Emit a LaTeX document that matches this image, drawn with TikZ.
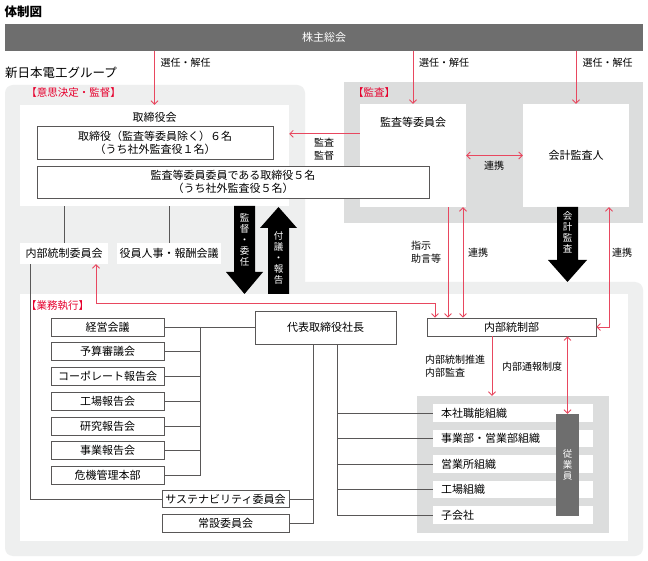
\documentclass[tikz,border=0pt]{standalone}
\usepackage{fontspec}
\setmainfont{Noto Sans CJK JP}
\usetikzlibrary{arrows.meta}
\definecolor{barGray}{HTML}{6E6E6E}
\definecolor{paleGray}{HTML}{EEEFEF}
\definecolor{auditGray}{HTML}{DCDDDD}
\definecolor{lineGray}{HTML}{595757}
\definecolor{linkRed}{HTML}{E8475F}
\definecolor{tagRed}{HTML}{E6002D}

\begin{document}
\begin{tikzpicture}[x=1pt, y=-1pt,
    box/.style={draw=lineGray, line width=0.8pt, fill=white, inner sep=0pt, align=center, font=\fontsize{11}{13}\selectfont},
    whitebox/.style={fill=white, inner sep=0pt, align=center, font=\fontsize{11}{13}\selectfont},
    orgbox/.style={fill=white, inner xsep=8pt, inner ysep=0pt, text width=144pt, minimum height=17.5pt, align=left, font=\fontsize{11}{13}\selectfont},
    tagtext/.style={text=tagRed, inner sep=0pt, font=\fontsize{10.5}{12}\selectfont},
    labeltext/.style={inner sep=0pt, align=left, font=\fontsize{10}{13}\selectfont},
    vtext/.style={text=white, inner sep=0pt, align=center, font=\fontsize{9.5}{11}\selectfont},
    link/.style={draw=lineGray, line width=0.8pt},
    redarrow/.style={draw=linkRed, line width=0.8pt, -{Straight Barb[length=3.5pt,width=7pt]}},
    redboth/.style={draw=linkRed, line width=0.8pt, {Straight Barb[length=3.5pt,width=7pt]}-{Straight Barb[length=3.5pt,width=7pt]}},
  ]
    \useasboundingbox (0,0) rectangle (648,561);
    \fill[white] (0,0) rectangle (648,561);

    % Draw background areas
    \fill[paleGray, rounded corners=8pt] (5,85) rectangle (305,300);
    \fill[paleGray, rounded corners=8pt] (5,282) rectangle (643,556);
    \fill[white] (20,294) rectangle (628,541);
    \fill[auditGray] (344,82) rectangle (643,223);

    % Draw titles
    \node[inner sep=0pt, font=\fontsize{12.5}{14}\selectfont\bfseries] (title) at (23.5,12) {体制図};
    \node[anchor=west, inner sep=0pt, font=\fontsize{12.5}{14}\selectfont] (group) at (5,73) {新日本電工グループ};
    \node[fill=barGray, text=white, minimum width=638pt, minimum height=27pt, inner sep=0pt, font=\fontsize{11}{13}\selectfont] (sh) at (324,37.5) {株主総会};
    \node[tagtext] (tagA) at (73.5,93) {【意思決定・監督】};
    \node[tagtext] (tagB) at (374,93) {【監査】};
    \node[tagtext] (tagC) at (57.5,306) {【業務執行】};

    % Draw board and audit nodes
    \node[fill=white, minimum width=269pt, minimum height=101pt, inner sep=0pt] (board) at (154.5,155.5) {};
    \node[inner sep=0pt, font=\fontsize{11}{13}\selectfont] (boardT) at (154.5,117) {取締役会};
    \node[box, minimum width=236pt, minimum height=33pt] (dir) at (155,142.5) {取締役（監査等委員除く）６名\\（うち社外監査役１名）};
    \node[fill=white, minimum width=106pt, minimum height=103pt, inner sep=0pt] (acm) at (413,155.5) {};
    \node[inner sep=0pt, font=\fontsize{11}{13}\selectfont] (acmT) at (413,122) {監査等委員会};
    \node[box, minimum width=392pt, minimum height=32pt] (acdir) at (233,182) {監査等委員委員である取締役５名\\（うち社外監査役５名）};
    \node[whitebox, minimum width=106pt, minimum height=103pt] (aud) at (576,155.5) {会計監査人};
    \node[whitebox, minimum width=88pt, minimum height=21pt] (icc) at (64,253.5) {内部統制委員会};
    \node[whitebox, minimum width=104pt, minimum height=21pt] (opc) at (169,253.5) {役員人事・報酬会議};

    % Draw big arrows
    \fill (234,206) -- (255,206) -- (255,272) -- (263,272) -- (244.5,294) -- (226,272) -- (234,272) -- cycle;
    \fill (268,294) -- (289,294) -- (289,228) -- (297,228) -- (278.5,207) -- (260,228) -- (268,228) -- cycle;
    \fill (557,207) -- (578,207) -- (578,260) -- (587,260) -- (567.5,282) -- (548,260) -- (557,260) -- cycle;
    \node[vtext] (supv) at (244.5,240) {監\\督\\・\\委\\任};
    \node[vtext] (rept) at (278.5,258) {付\\議\\・\\報\\告};
    \node[vtext] (acct) at (567.5,232) {会\\計\\監\\査};

    % Draw execution nodes
    \node[box, minimum width=141pt, minimum height=33pt] (pres) at (325.5,327.5) {代表取締役社長};
    \node[box, minimum width=169pt, minimum height=18pt] (icd) at (511.5,327) {内部統制部};
    \foreach \name/\txt [count=\i from 0] in {c1/経営会議, c2/予算審議会, c3/コーポレート報告会, c4/工場報告会, c5/研究報告会, c6/事業報告会, c7/危機管理本部}
        \node[box, minimum width=113pt, minimum height=18pt] (\name) at (107.5,{327+24.75*\i}) {\txt};
    \node[box, minimum width=127pt, minimum height=17pt] (sus) at (225.5,499) {サステナビリティ委員会};
    \node[box, minimum width=127pt, minimum height=18pt] (std) at (225.5,523) {常設委員会};
    \node[fill=auditGray, minimum width=192pt, minimum height=137pt, inner sep=0pt] (org) at (513,464.5) {};
    \foreach \name/\txt [count=\i from 0] in {o1/本社職能組織, o2/事業部・営業部組織, o3/営業所組織, o4/工場組織, o5/子会社}
        \node[orgbox] (\name) at (513,{413+25.5*\i}) {\txt};
    \node[fill=barGray, minimum width=23pt, minimum height=102pt, vtext] (emp) at (567.5,465) {従\\業\\員};

    % Draw reporting lines
    \draw[link] (icc.north |- board.south) -- (icc.north);
    \draw[link] (opc.north |- board.south) -- (opc.north);
    \coordinate (iccL) at ([xshift=-34pt]icc.south);
    \draw[link] (iccL) |- (sus.west);
    \coordinate (busT) at (200,327);
    \draw[link] (c1.east) -- (c1.east -| pres.west);
    \foreach \i in {2,...,7}
        \draw[link] (c\i.east) -- (c\i.east -| busT);
    \draw[link] (busT) -- (busT |- c7.east);
    \coordinate (presL) at ([xshift=-12.5pt]pres.south);
    \coordinate (presR) at ([xshift=11.5pt]pres.south);
    \draw[link] (presL) |- (std.east);
    \draw[link] (sus.east) -- (sus.east -| presL);
    \draw[link] (presR) |- (o5.west);
    \foreach \i in {1,...,4}
        \draw[link] (o\i.west) -- (o\i.west -| presR);

    % Draw red arrows
    \draw[redarrow] (sh.south -| board.north) -- (board.north);
    \draw[redarrow] (sh.south -| acm.north) -- (acm.north);
    \draw[redarrow] (sh.south -| aud.north) -- (aud.north);
    \node[labeltext] (elA) at (185.5,63) {選任・解任};
    \node[labeltext] (elB) at (444,63) {選任・解任};
    \node[labeltext] (elC) at (607.5,63) {選任・解任};
    \coordinate (mon) at ([yshift=-30pt]acm.north west);
    \draw[redarrow] (mon) -- (mon -| board.east);
    \node[labeltext] (monT) at (324,149.5) {監査\\監督};
    \draw[redboth] (acm.east) -- (aud.west);
    \node[labeltext] (coopA) at (494,166) {連携};
    \coordinate (advA) at ([xshift=35pt]acm.south);
    \coordinate (advB) at ([xshift=50pt]acm.south);
    \draw[redarrow] (advA) -- (advA |- icd.north);
    \draw[redboth] (advB) -- (advB |- icd.north);
    \node[labeltext, anchor=west] (advT) at (411,252) {指示\\助言等};
    \node[labeltext] (coopB) at (478,253) {連携};
    \coordinate (iccR) at ([xshift=32pt]icc.south);
    \coordinate (iccT) at ([xshift=-76.5pt]icd.north);
    \draw[redboth] (iccR) |- ([yshift=14pt]iccT) -- (iccT);
    \coordinate (audR) at ([xshift=33pt]aud.south);
    \draw[redboth] (audR) |- (icd.east);
    \node[labeltext] (coopC) at (622,253) {連携};
    \coordinate (icdD) at ([xshift=-19.5pt]icd.south);
    \draw[redarrow] (icdD) -- (icdD |- org.north);
    \node[labeltext, anchor=west] (auditT) at (425,366.5) {内部統制推進\\内部監査};
    \draw[redboth] (icd.south -| emp.north) -- (emp.north);
    \node[labeltext] (whistle) at (532,367) {内部通報制度};
\end{tikzpicture}
\end{document}
